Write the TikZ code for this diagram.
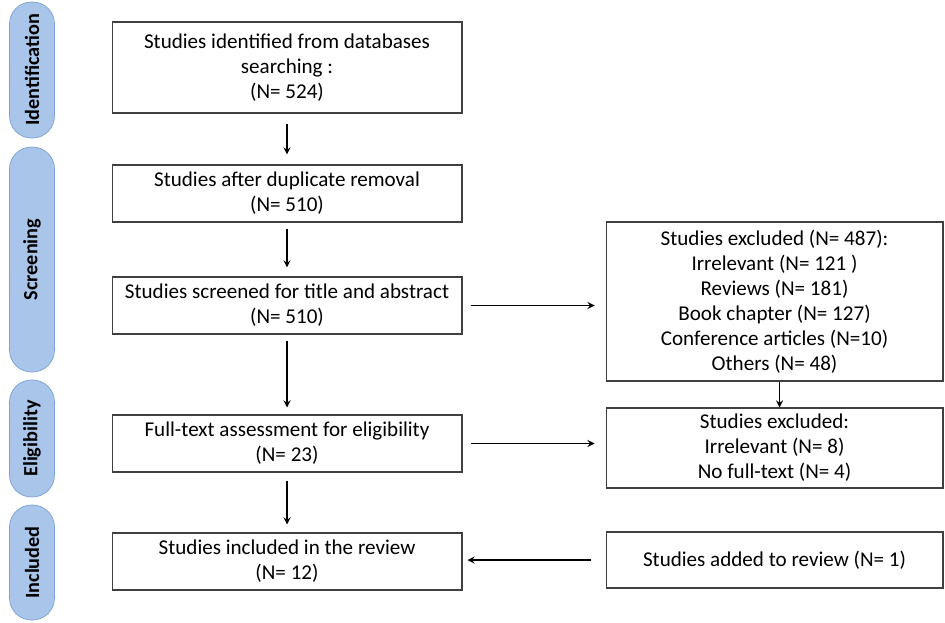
\documentclass[tikz,border=0pt]{standalone}
\usepackage{fontspec}
\setmainfont{Carlito}
\usetikzlibrary{arrows}
\definecolor{phasefill}{RGB}{169,197,234}
\definecolor{phaseline}{RGB}{122,160,212}
\colorlet{boxcol}{black!75}
\tikzstyle{stage}=[draw=boxcol,semithick,align=center,minimum width=7cm,minimum height=1.14cm,inner sep=2pt,font=\fontsize{12}{14.2}\selectfont]
\tikzstyle{side}=[stage,minimum width=6.74cm]
\tikzstyle{phase}=[draw=phaseline,fill=phasefill,rounded corners=0.44cm,rotate=90,minimum height=0.9cm,font=\fontsize{11.5}{13}\selectfont\bfseries]
\tikzstyle{flow}=[-stealth,thick]

\begin{document}
\begin{tikzpicture}[x=0.02cm,y=-0.02cm]
  \useasboundingbox (0,0) rectangle (945,622);
  % Phases
  \node[phase,minimum width=2.72cm] (pid) at (32,70) {Identification};
  \node[phase,minimum width=4.5cm] (psc) at (32,259.5) {Screening};
  \node[phase,minimum width=2.34cm] (pel) at (32,438.5) {Eligibility};
  \node[phase,minimum width=2.3cm] (pin) at (32,562.5) {Included};
  % Main column
  \node[stage,minimum height=1.82cm] (ident) at (287,67.5)
    {Studies identified from databases\\searching :\\(N= 524)};
  \node[stage] (dedup) at (287,193.5) {Studies after duplicate removal\\(N= 510)};
  \node[stage] (screen) at (287,305.5) {Studies screened for title and abstract\\(N= 510)};
  \node[stage] (elig) at (287,443.5) {Full-text assessment for eligibility\\(N= 23)};
  \node[stage] (incl) at (287,561.5) {Studies included in the review\\(N= 12)};
  % Side column
  \node[side,minimum height=3.18cm] (excl) at (774.5,301.5)
    {Studies excluded (N= 487):\\Irrelevant (N= 121 )\\Reviews (N= 181)\\Book chapter (N= 127)\\Conference articles (N=10)\\Others (N= 48)};
  \node[side,minimum height=1.6cm] (exft) at (774.5,448)
    {Studies excluded:\\Irrelevant (N= 8)\\No full-text (N= 4)};
  \node[side,minimum height=1.12cm] (added) at (774.5,560) {Studies added to review (N= 1)};
  % Arrows
  \draw[flow,shorten <=0.2cm,shorten >=0.2cm] (ident) -- (dedup);
  \draw[flow,shorten <=0.12cm,shorten >=0.18cm] (dedup) -- (screen);
  \draw[flow,shorten <=0.12cm,shorten >=0.14cm] (screen) -- (elig);
  \draw[flow,shorten <=0.16cm,shorten >=0.16cm] (elig) -- (incl);
  \draw[flow,shorten <=0.16cm,shorten >=0.22cm] (screen.east) -- (screen -| excl.west);
  \draw[flow,shorten <=0.16cm,shorten >=0.22cm] (elig.east) -- (elig -| exft.west);
  \draw[flow] ([xshift=0.1cm]excl.south) -- ([xshift=0.1cm]exft.north);
  \draw[flow,shorten <=0.3cm,shorten >=0.1cm] (added.west) -- (added -| incl.east);
\end{tikzpicture}
\end{document}
